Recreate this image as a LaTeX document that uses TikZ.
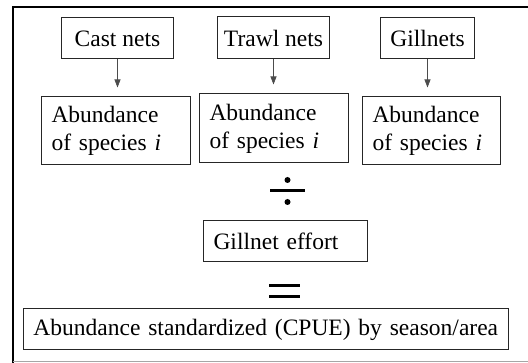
\documentclass[tikz,border=0pt]{standalone}
\usepackage{fontspec}
\setmainfont{Liberation Serif}
\usetikzlibrary{arrows.meta}
\begin{document}
\begin{tikzpicture}[x=1pt,y=-1pt,
  box/.style={draw=black!85, line width=1pt, inner xsep=10pt, inner ysep=0pt,
    anchor=west, align=left, font=\fontsize{23.5}{28}\selectfont},
  onebox/.style={draw=black!85, line width=1pt, inner xsep=0pt, inner ysep=0pt,
    anchor=west, font=\fontsize{23.5}{28}\selectfont},
  arr/.style={draw=black!70, line width=0.8pt, -{Triangle[width=6pt,length=8pt]}, shorten >=9pt},
  opbar/.style={line width=3pt, black},
  frameline/.style={line width=1.5pt}]
\useasboundingbox (0,0) rectangle (528,363);
% frame
\draw[frameline] (13,363) -- (13,7) -- (530,7);
\draw[frameline, black!35] (13,361.5) -- (530,361.5);
% top boxes
\node[onebox, minimum width=112pt, minimum height=41pt] (cast) at (61,38.5) {Cast nets};
\node[onebox, minimum width=112pt, minimum height=42pt] (trawl) at (217,38) {Trawl nets};
\node[onebox, minimum width=94pt, minimum height=41pt] (gill) at (380,38.5) {Gillnets};
% abundance boxes
\node[box, text width=129pt, minimum height=68pt] (ab1) at (41,131) {Abundance\\of species \textit{i}};
\node[box, text width=129pt, minimum height=69pt] (ab2) at (199,128.5) {Abundance\\of species \textit{i}};
\node[box, text width=118pt, minimum height=68pt] (ab3) at (362,131) {Abundance\\of species \textit{i}};
% arrows
\draw[arr] (cast.south) -- (cast.south |- ab1.north);
\draw[arr] (trawl.south) -- (trawl.south |- ab2.north);
\draw[arr] (gill.south) -- (gill.south |- ab3.north);
% division sign
\draw[opbar] (270,191) -- (305,191);
\fill (287.5,180) circle (3pt);
\fill (287.5,202) circle (3pt);
% gillnet effort
\node[box, text width=144pt, minimum height=41pt] (effort) at (203,241.5) {Gillnet effort};
% equals sign
\draw[opbar] (269,286) -- (300,286);
\draw[opbar] (269,297) -- (300,297);
% result
\node[box, text width=465pt, minimum height=41pt] (cpue) at (23,329.5) {Abundance standardized (CPUE) by season/area};
\end{tikzpicture}
\end{document}
